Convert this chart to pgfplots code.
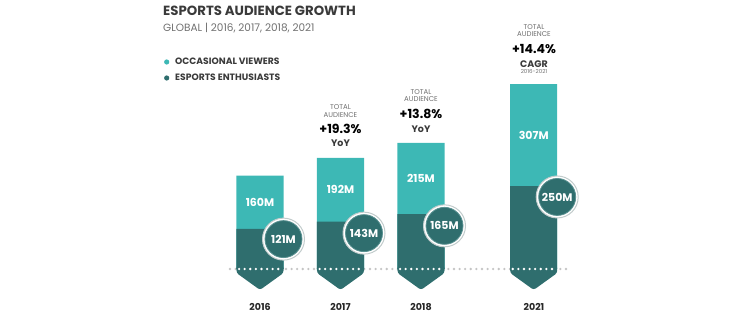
\documentclass[border=0pt]{standalone}
\usepackage{pgfplots}
\usepackage{pgfplotstable}
\pgfplotsset{compat=1.18}
\usepackage{fontspec}
\setmainfont{Poppins}
\definecolor{lightteal}{HTML}{3DB8B5}
\definecolor{darkteal}{HTML}{2F6E6E}
\definecolor{ringteal}{HTML}{5A9292}
\definecolor{titlegray}{HTML}{3A3A3A}
\definecolor{subgray}{HTML}{707070}
\definecolor{dotgray}{HTML}{C4C4C4}
\definecolor{ringgray}{HTML}{C2CCCC}
\pgfplotstableread{
x dark light
0 121 160
1 143 192
2 165 215
3.4 250 307
}\datatab
\pgfplotstableread{
x y lab
0 201 160M
1 239 192M
2 272.5 215M
3.4 403.5 307M
}\lighttab
\pgfplotstableread{
x y lab
0.292 90 121M
1.292 108 143M
2.292 130 165M
3.692 217 250M
}\circtab
\begin{document}
\begin{tikzpicture}
\path[use as bounding box] (0pt,0pt) rectangle (750pt,321pt);
\begin{axis}[at={(179.5pt,2.2pt)}, anchor=south west, scale only axis,
  width=442.75pt, height=315.4pt, xmin=-1, xmax=4.5, ymin=-150, ymax=800,
  hide axis, clip=false]
% grey dotted baseline (behind bars)
\addplot[dotgray, line width=2.6pt, line cap=round, dash pattern=on 0pt off 5.6pt, mark=none]
  coordinates {(-0.373,0) (3.81,0)};
% light (total) bars
\addplot[ybar, bar width=0.584, bar shift=0pt, fill=lightteal, draw=none]
  table[x=x, y expr=\thisrow{dark}+\thisrow{light}] {\datatab};
% dark bars
\addplot[ybar, bar width=0.584, bar shift=0pt, fill=darkteal, draw=none]
  table[x=x, y=dark] {\datatab};
% chevrons
\addplot[fill=darkteal, draw=none, rounded corners=2.5pt, mark=none]
  coordinates {(-0.292,10) (-0.292,-12) (0,-63) (0.292,-12) (0.292,10)} -- cycle;
\addplot[fill=darkteal, draw=none, rounded corners=2.5pt, mark=none]
  coordinates {(0.708,10) (0.708,-12) (1,-63) (1.292,-12) (1.292,10)} -- cycle;
\addplot[fill=darkteal, draw=none, rounded corners=2.5pt, mark=none]
  coordinates {(1.708,10) (1.708,-12) (2,-63) (2.292,-12) (2.292,10)} -- cycle;
\addplot[fill=darkteal, draw=none, rounded corners=2.5pt, mark=none]
  coordinates {(3.108,10) (3.108,-12) (3.4,-63) (3.692,-12) (3.692,10)} -- cycle;
% white dots on bars
\addplot[white, line width=2.6pt, line cap=round, dash pattern=on 0pt off 5.6pt, mark=none]
  coordinates {(-0.26,0) (0.27,0)};
\addplot[white, line width=2.6pt, line cap=round, dash pattern=on 0pt off 5.6pt, mark=none]
  coordinates {(0.74,0) (1.27,0)};
\addplot[white, line width=2.6pt, line cap=round, dash pattern=on 0pt off 5.6pt, mark=none]
  coordinates {(1.74,0) (2.27,0)};
\addplot[white, line width=2.6pt, line cap=round, dash pattern=on 0pt off 5.6pt, mark=none]
  coordinates {(3.14,0) (3.67,0)};
% labels in light segments
\addplot[only marks, mark=*, mark size=0pt, mark options={draw=none, fill=none},
  nodes near coords, point meta=explicit symbolic,
  every node near coord/.append style={anchor=center, text=white, font=\fontsize{11}{12}\selectfont\bfseries}]
  table[x=x, y=y, meta=lab] {\lighttab};
% circles (outer ring)
\addplot[only marks, mark=*, mark size=21pt, mark options={fill=white, draw=ringgray, line width=1pt}]
  table[x=x, y=y] {\circtab};
% circles (inner)
\addplot[only marks, mark=*, mark size=18.5pt, mark options={fill=darkteal, draw=ringteal, line width=0.8pt},
  nodes near coords, point meta=explicit symbolic,
  every node near coord/.append style={anchor=center, text=white, font=\fontsize{11}{12}\selectfont\bfseries}]
  table[x=x, y=y, meta=lab] {\circtab};
\end{axis}
% title and subtitle
\node[anchor=base west, inner sep=0pt, text=titlegray, font=\fontsize{13.3}{15}\selectfont\bfseries] at (163pt,305pt) {ESPORTS AUDIENCE GROWTH};
\node[anchor=base west, inner sep=0pt, text=subgray, font=\fontsize{10.5}{12}\selectfont] at (163pt,289.3pt) {GLOBAL | 2016, 2017, 2018, 2021};
% legend
\fill[lightteal] (166.7pt,259pt) circle (2.6pt);
\fill[darkteal] (166.7pt,243pt) circle (2.6pt);
\node[anchor=base west, inner sep=0pt, text=titlegray, font=\fontsize{9.2}{10}\selectfont\bfseries] at (175pt,256pt) {OCCASIONAL VIEWERS};
\node[anchor=base west, inner sep=0pt, text=titlegray, font=\fontsize{9.2}{10}\selectfont\bfseries] at (175pt,240pt) {ESPORTS ENTHUSIASTS};
% annotations
\tikzset{small/.style={inner sep=0pt, text=subgray, font=\fontsize{7}{8}\selectfont},
  big/.style={inner sep=0pt, text=black, font=\fontsize{12.5}{13}\selectfont\bfseries},
  mid/.style={inner sep=0pt, text=titlegray, font=\fontsize{9.5}{11}\selectfont\bfseries}}
\node[small] at (340.5pt,213.7pt) {TOTAL};
\node[small] at (340.5pt,206pt) {AUDIENCE};
\node[big] at (340.5pt,191.7pt) {+19.3\%};
\node[mid] at (340.5pt,177.7pt) {YoY};
\node[small] at (421pt,229.3pt) {TOTAL};
\node[small] at (421pt,221.7pt) {AUDIENCE};
\node[big] at (421pt,207pt) {+13.8\%};
\node[mid] at (421pt,192pt) {YoY};
\node[small] at (534pt,294.3pt) {TOTAL};
\node[small] at (534pt,287pt) {AUDIENCE};
\node[big] at (534pt,272pt) {+14.4\%};
\node[mid] at (534pt,257pt) {CAGR};
\node[inner sep=0pt, text=subgray, font=\fontsize{5.5}{6}\selectfont] at (534pt,249.3pt) {2016-2021};
% year labels
\node[mid, text=black!85] at (260pt,14pt) {2016};
\node[mid, text=black!85] at (340.5pt,14pt) {2017};
\node[mid, text=black!85] at (421pt,14pt) {2018};
\node[mid, text=black!85] at (534pt,14pt) {2021};
\end{tikzpicture}
\end{document}
